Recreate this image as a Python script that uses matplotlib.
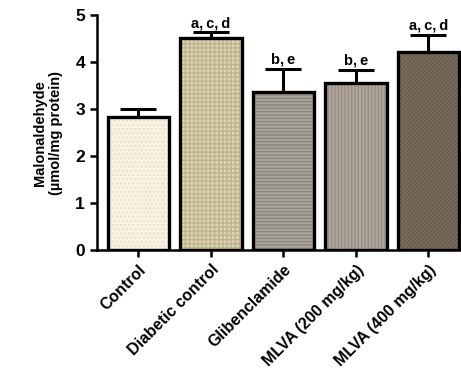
import matplotlib
matplotlib.use("Agg")
import matplotlib.pyplot as plt

groups = ["Control", "Diabetic control", "Glibenclamide",
          "MLVA (200 mg/kg)", "MLVA (400 mg/kg)"]
mda = [2.83, 4.52, 3.36, 3.55, 4.22]
sem = [0.18, 0.11, 0.50, 0.28, 0.35]
letters = ["", "a,c,d", "b,e", "b,e", "a,c,d"]

# fill, hatch colour, hatch pattern per group
faces = ["#f7f3e2", "#ddd5b0", "#a9a59b", "#b7a590", "#7b6f5f"]
hcols = ["#e8e2cc", "#bdb48f", "#8b877e", "#8e8e94", "#665b4c"]
hatches = ["....", "++++", "-----", "|||||", "////////"]

plt.rcParams["font.family"] = ["Liberation Sans", "DejaVu Sans"]
plt.rcParams["font.weight"] = "bold"
plt.rcParams["hatch.linewidth"] = 1.0

fig = plt.figure(figsize=(4.61, 3.75), dpi=100)
ax = fig.add_axes([0.21, 0.333, 0.79, 0.627])

x = list(range(len(groups)))
w = 0.85
for i in x:
    ax.bar(i, mda[i], w, color=faces[i], edgecolor=hcols[i],
           hatch=hatches[i], linewidth=0, zorder=2)
ax.bar(x, mda, w, fill=False, edgecolor="black", linewidth=2.4, zorder=3)
ax.errorbar(x, mda, yerr=[[0] * len(sem), sem], fmt="none", ecolor="black",
            elinewidth=2.2, capsize=13, capthick=2.2, zorder=1)

for i in x:
    if letters[i]:
        ax.text(i, mda[i] + sem[i] + 0.05, letters[i].replace(",", ",\u2009"),
                ha="center", va="bottom", fontsize=10.5, fontweight="bold")

ax.set_xlim(-0.575, 4.45)
ax.set_ylim(0, 5)
ax.set_yticks([0, 1, 2, 3, 4, 5])
ax.set_xticks(x)
ax.set_xticklabels(groups, rotation=45, ha="right", rotation_mode="anchor",
                   fontsize=11.5, fontweight="bold")
ax.tick_params(axis="y", labelsize=12.5, width=1.8, length=5)
ax.tick_params(axis="x", width=1.8, length=5)
ax.set_ylabel("Malonaldehyde\n(µmol/mg protein)", fontsize=10.5,
              fontweight="bold", labelpad=9)

for s in ["top", "right"]:
    ax.spines[s].set_visible(False)
for s in ["left", "bottom"]:
    ax.spines[s].set_linewidth(1.8)

fig.savefig("out.png", dpi=100)
